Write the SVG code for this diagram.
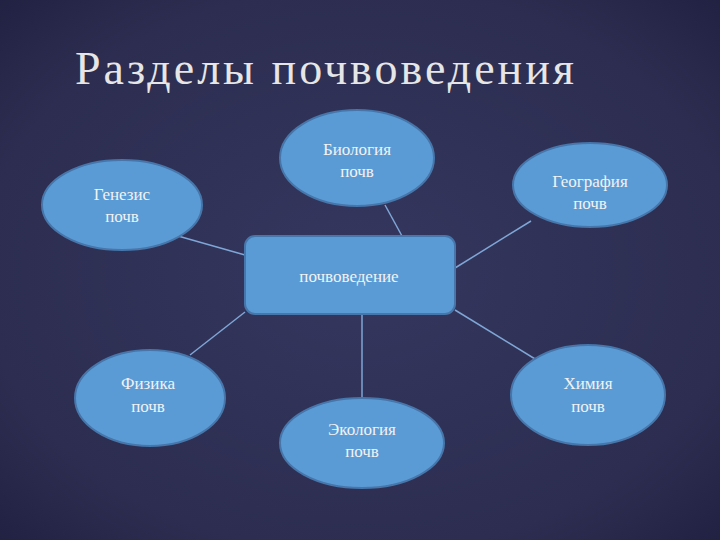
<svg xmlns="http://www.w3.org/2000/svg" width="720" height="540" viewBox="0 0 720 540">
<defs>
<radialGradient id="bg" cx="50%" cy="50%" r="75%">
<stop offset="0" stop-color="#35375f"/><stop offset="0.7" stop-color="#2c2d50"/><stop offset="1" stop-color="#1f2040"/>
</radialGradient>
<style>
.n{fill:#5b9bd5;stroke:#4676aa;stroke-width:2}
.t{font-family:"Liberation Serif","DejaVu Serif",serif;font-size:17px;fill:#f2f2f2;text-anchor:middle}
.c line{stroke:#7ea6d6;stroke-width:1.5}
</style>
</defs>
<rect width="720" height="540" fill="url(#bg)"/>
<text x="75" y="84" font-family="Liberation Serif, DejaVu Serif, serif" font-size="46" fill="#e6e6e6" letter-spacing="3">Разделы почвоведения</text>
<g class="c" id="connectors">
<line x1="178" y1="236" x2="245" y2="255"/>
<line x1="385" y1="205" x2="402" y2="236"/>
<line x1="531" y1="221" x2="455" y2="268"/>
<line x1="190" y1="355" x2="245" y2="312"/>
<line x1="362" y1="314" x2="362" y2="398"/>
<line x1="540" y1="362" x2="455" y2="310"/>
</g>
<g id="center"><rect class="n" x="245" y="236" width="210" height="78" rx="10"/><text class="t" x="349" y="282">почвоведение</text></g>
<g id="genesis"><ellipse class="n" cx="122" cy="205" rx="80" ry="45"/><text class="t" x="122" y="200">Генезис</text><text class="t" x="122" y="222">почв</text></g>
<g id="biology"><ellipse class="n" cx="357" cy="158" rx="77" ry="48"/><text class="t" x="357" y="155">Биология</text><text class="t" x="357" y="177">почв</text></g>
<g id="geography"><ellipse class="n" cx="590" cy="185" rx="77" ry="42"/><text class="t" x="590" y="187">География</text><text class="t" x="590" y="209">почв</text></g>
<g id="physics"><ellipse class="n" cx="150" cy="398" rx="75" ry="48"/><text class="t" x="148" y="389">Физика</text><text class="t" x="148" y="412">почв</text></g>
<g id="chemistry"><ellipse class="n" cx="588" cy="395" rx="77" ry="50"/><text class="t" x="588" y="389">Химия</text><text class="t" x="588" y="412">почв</text></g>
<g id="ecology"><ellipse class="n" cx="362" cy="443" rx="82" ry="45"/><text class="t" x="362" y="435">Экология</text><text class="t" x="362" y="457">почв</text></g>
</svg>
